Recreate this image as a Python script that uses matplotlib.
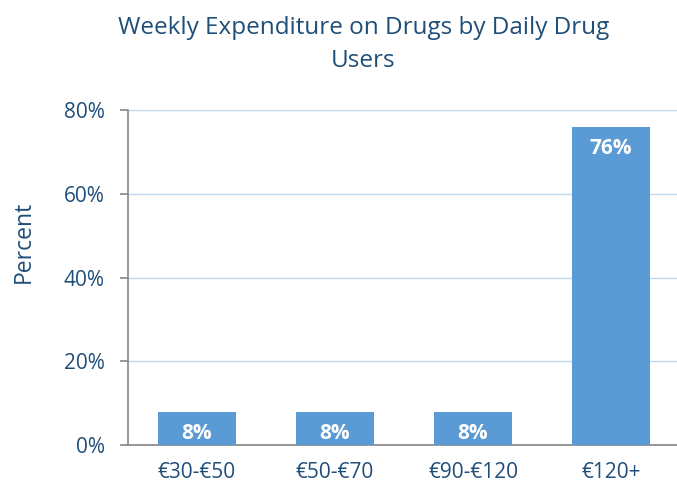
import matplotlib
matplotlib.use("Agg")
import matplotlib.pyplot as plt
from matplotlib.ticker import PercentFormatter

# Данные
cats = ["€30-€50", "€50-€70", "€90-€120", "€120+"]
vals = [8, 8, 8, 76]
yticks = [0, 20, 40, 60, 80]

txt_col = "#1F4E79"
bar_col = "#5B9BD5"
grid_col = "#BDD7EE"
axis_col = "#868686"

plt.rcParams["font.family"] = ["Open Sans", "DejaVu Sans"]

fig = plt.figure(figsize=(6.77, 4.86), dpi=100)
ax = fig.add_axes([128 / 677, 41 / 486, 552 / 677, 335 / 486])

x = range(len(cats))
bars = ax.bar(x, vals, width=0.565, color=bar_col, zorder=3)

for b, v in zip(bars, vals):
    ax.annotate(f"{v}%", (b.get_x() + b.get_width() / 2, v),
                xytext=(0, -16), textcoords="offset points",
                ha="center", va="center", color="white",
                fontsize=15, fontweight="bold", zorder=4)

ax.set_xlim(-0.5, len(cats) - 0.5)
ax.set_ylim(0, 80)
ax.set_yticks(yticks)
ax.yaxis.set_major_formatter(PercentFormatter(decimals=0))
ax.set_xticks(list(x))
ax.set_xticklabels(cats)

ax.grid(axis="y", color=grid_col, lw=1, zorder=0)
for s in ["top", "right"]:
    ax.spines[s].set_visible(False)
ax.spines["left"].set_color(axis_col)
ax.spines["bottom"].set_color(axis_col)
ax.spines["left"].set_linewidth(1.2)
ax.spines["bottom"].set_linewidth(1.2)

ax.tick_params(axis="y", length=5.8, color=axis_col, width=1.2, pad=11,
               labelsize=15, labelcolor=txt_col)
ax.tick_params(axis="x", length=0, pad=12, labelsize=15, labelcolor=txt_col)

ax.set_ylabel("Percent", fontsize=16.5, color=txt_col, labelpad=20)
ax.yaxis.label.set_y(0.606)

fig.text(0.537, 0.968, "Weekly Expenditure on Drugs by Daily Drug\nUsers",
         ha="center", va="top", fontsize=17.5, color=txt_col, linespacing=1.5)

fig.savefig("out.png", dpi=100)
